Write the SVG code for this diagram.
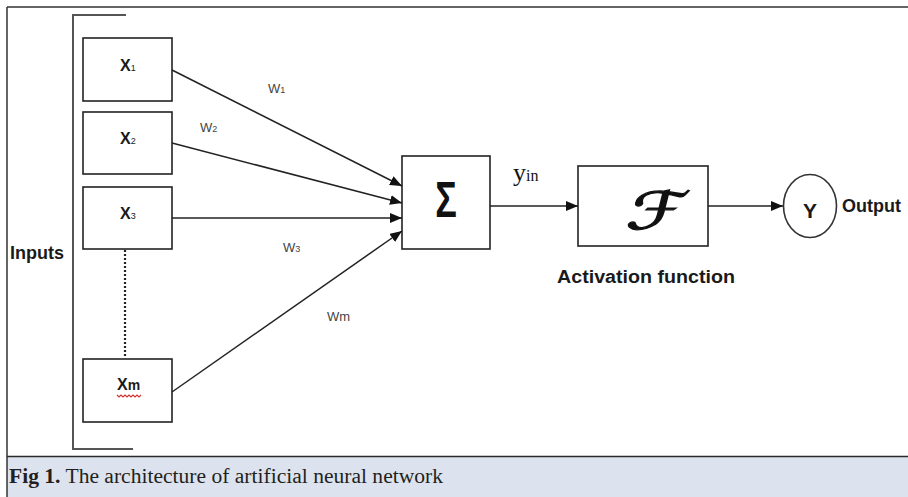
<svg xmlns="http://www.w3.org/2000/svg" width="908" height="497" viewBox="0 0 908 497">
  <style>
    .box { fill: #ffffff; stroke: #222222; stroke-width: 1.6; }
    .wire { fill: none; stroke: #222222; stroke-width: 1.5; }
    .lbl { font-family: "Liberation Sans", Arial, sans-serif; font-weight: bold; fill: #1a1a1a; }
    .wt { font-family: "Liberation Sans", Arial, sans-serif; fill: #444444; font-size: 13px; }
    .frame { stroke: #333333; stroke-width: 1.5; fill: none; }
  </style>
  <defs>
    <marker id="arrow" viewBox="0 0 12 10" refX="12" refY="5" markerWidth="12" markerHeight="10" markerUnits="userSpaceOnUse" orient="auto">
      <path d="M0,0 L12,5 L0,10 Z" fill="#111111"/>
    </marker>
  </defs>

  <!-- page background and caption band -->
  <rect x="0" y="0" width="908" height="497" fill="#ffffff"/>
  <rect x="7" y="457" width="901" height="40" fill="#dde3ee"/>
  <line class="frame" x1="7" y1="7" x2="908" y2="7"/>
  <line class="frame" x1="7" y1="7" x2="7" y2="497"/>
  <line x1="7" y1="456.5" x2="908" y2="456.5" stroke="#2a2a2a" stroke-width="1.6"/>
  <text x="9" y="483" font-family="Liberation Serif, 'Times New Roman', serif" font-size="20" fill="#231f20" textLength="434" lengthAdjust="spacingAndGlyphs"><tspan font-weight="bold">Fig 1.</tspan> The architecture of artificial neural network</text>

  <!-- input bracket -->
  <g id="inputs-bracket">
    <polyline points="126,15 73,15 73,449 133,449" fill="none" stroke="#555555" stroke-width="2"/>
    <text class="lbl" x="10" y="259" font-size="18">Inputs</text>
  </g>

  <!-- input nodes -->
  <g id="x1">
    <rect class="box" x="83" y="38" width="89" height="63"/>
    <text class="lbl" x="120" y="71" font-size="16">X<tspan font-size="9" font-weight="normal">1</tspan></text>
  </g>
  <g id="x2">
    <rect class="box" x="83" y="112" width="89" height="62"/>
    <text class="lbl" x="120" y="144" font-size="16">X<tspan font-size="9" font-weight="normal">2</tspan></text>
  </g>
  <g id="x3">
    <rect class="box" x="83" y="187" width="89" height="62"/>
    <text class="lbl" x="120" y="219" font-size="16">X<tspan font-size="9" font-weight="normal">3</tspan></text>
  </g>
  <g id="xm">
    <rect class="box" x="83" y="359" width="89" height="63"/>
    <text class="lbl" x="117" y="390" font-size="16">X<tspan font-size="14">m</tspan></text>
    <path d="M117,395 l2,2 l2,-2 l2,2 l2,-2 l2,2 l2,-2 l2,2 l2,-2 l2,2 l2,-2 l2,2 l2,-2" fill="none" stroke="#d0312d" stroke-width="1.1"/>
  </g>

  <!-- summation node -->
  <g id="sum">
    <rect class="box" x="402" y="156" width="88" height="93"/>
    <text transform="translate(446,217) scale(0.72,1)" text-anchor="middle" font-family="'Liberation Sans', Arial, sans-serif" font-weight="bold" font-size="50" fill="#111111">Σ</text>
  </g>

  <!-- activation node -->
  <g id="activation">
    <rect class="box" x="578" y="166" width="130" height="80"/>
    <text transform="translate(653,229) skewX(-14) scale(1.4,1)" text-anchor="middle" font-family="'DejaVu Serif', 'DejaVu Sans', serif" font-size="52" fill="#111111" stroke="#111111" stroke-width="1.2">ℱ</text>
    <text class="lbl" x="557" y="283" font-size="18" textLength="178" lengthAdjust="spacingAndGlyphs">Activation function</text>
  </g>

  <!-- output node -->
  <g id="output">
    <ellipse cx="810" cy="206" rx="26.5" ry="31.5" fill="#ffffff" stroke="#333333" stroke-width="1.6"/>
    <text class="lbl" x="810" y="218" text-anchor="middle" font-size="21">Y</text>
    <text class="lbl" x="842" y="212" font-size="18">Output</text>
  </g>

  <!-- connectors -->
  <g id="connectors">
    <line class="wire" x1="172" y1="70" x2="402" y2="186" marker-end="url(#arrow)"/>
    <line class="wire" x1="172" y1="143" x2="402" y2="203" marker-end="url(#arrow)"/>
    <line class="wire" x1="172" y1="218" x2="402" y2="218" marker-end="url(#arrow)"/>
    <line class="wire" x1="172" y1="392" x2="402" y2="231" marker-end="url(#arrow)"/>
    <line x1="125" y1="250" x2="125" y2="357" stroke="#222222" stroke-width="2.2" stroke-dasharray="2,2"/>
    <line class="wire" x1="490" y1="206" x2="578" y2="206" marker-end="url(#arrow)"/>
    <line class="wire" x1="708" y1="206" x2="783" y2="206" marker-end="url(#arrow)"/>
    <text class="wt" x="268" y="93">W<tspan font-size="9">1</tspan></text>
    <text class="wt" x="200" y="132">W<tspan font-size="9">2</tspan></text>
    <text class="wt" x="283" y="252">W<tspan font-size="9">3</tspan></text>
    <text class="wt" x="327" y="321">Wm</text>
    <text x="513" y="181" font-family="'Liberation Serif', 'Times New Roman', serif" font-size="26" fill="#111111">y<tspan font-size="16">in</tspan></text>
  </g>
</svg>
